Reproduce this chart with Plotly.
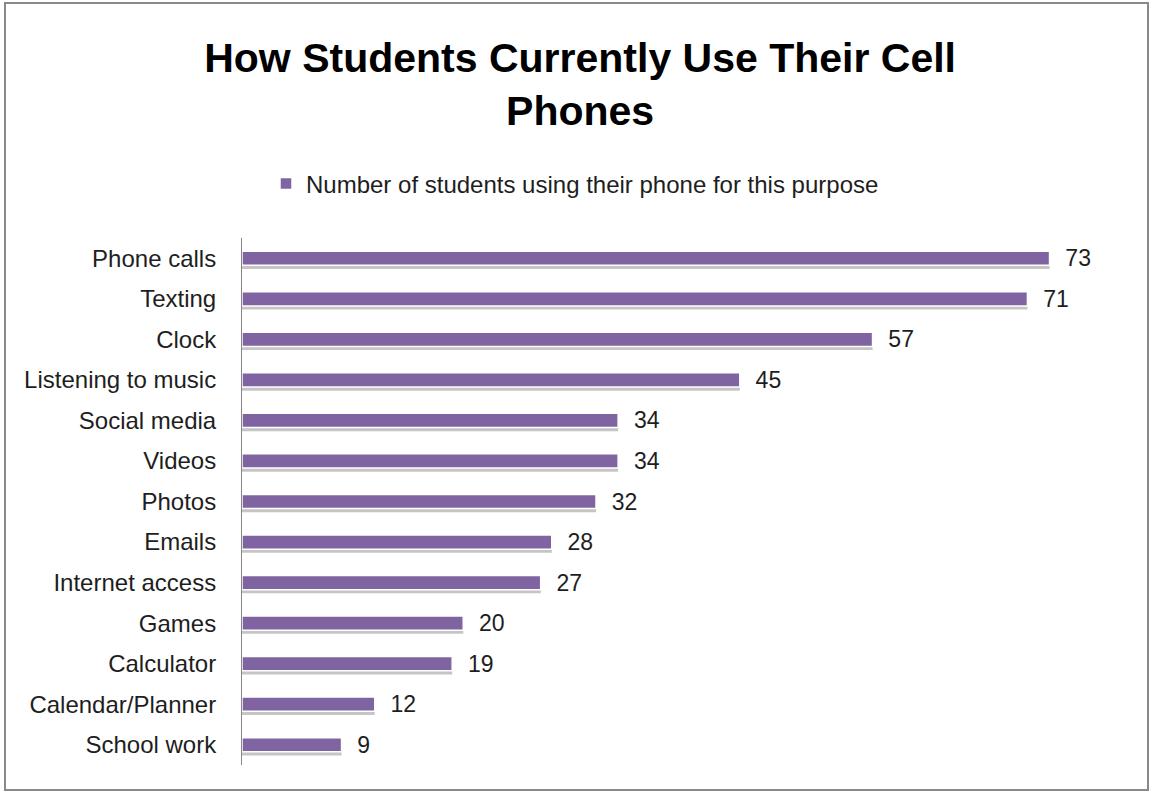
import plotly.graph_objects as go

categories = ["Phone calls", "Texting", "Clock", "Listening to music", "Social media",
              "Videos", "Photos", "Emails", "Internet access", "Games", "Calculator",
              "Calendar/Planner", "School work"]
values = [73, 71, 57, 45, 34, 34, 32, 28, 27, 20, 19, 12, 9]
series_name = "Number of students using their phone for this purpose"
title_text = "How Students Currently Use Their Cell<br>Phones"

W, H = 1151, 793
L, R, T, B = 242, 24, 238, 28
pw, ph = W - L - R, H - T - B
bw = 0.35
txt = "#1e1e1e"
fam = "Liberation Sans, Arial, sans-serif"

fig = go.Figure()
# shadow
fig.add_trace(go.Bar(
    y=categories, x=values, orientation="h", width=bw, offset=-bw / 2 + 0.09,
    marker=dict(color="rgba(90,90,90,0.35)", line=dict(width=0)),
    showlegend=False, hoverinfo="skip"))
fig.add_trace(go.Bar(
    y=categories, x=values, orientation="h", width=bw, offset=-bw / 2,
    name=series_name,
    marker=dict(color="#8064A2", line=dict(color="white", width=1.5)),
    text=values, texttemplate="  %{x}", textposition="outside", cliponaxis=False,
    constraintext="none",
    textfont=dict(size=23, color=txt, family=fam)))

fig.update_layout(
    width=W, height=H, barmode="overlay",
    margin=dict(l=L, r=R, t=T, b=B),
    paper_bgcolor="white", plot_bgcolor="white",
    font=dict(family=fam, color=txt),
    title=dict(text=title_text, x=0.504, xref="container", xanchor="center",
               y=1 - 72 / H, yref="container", yanchor="middle",
               font=dict(size=41, color="#000000", family=fam, weight="bold")),
    legend=dict(orientation="h", x=266 / W, xanchor="left", y=1 - 184 / H, yanchor="middle",
                xref="container", yref="container", font=dict(size=24, color=txt),
                itemwidth=30),
    xaxis=dict(range=[0, 80], showgrid=False, showticklabels=False, zeroline=False,
               showline=False, ticks=""),
    yaxis=dict(autorange="reversed", showgrid=False, showline=True, linecolor="#868686",
               linewidth=1, ticks="", tickfont=dict(size=24, color=txt),
               ticklabelstandoff=20),
    shapes=[dict(type="rect", xref="paper", yref="paper",
                 x0=(5 - L) / pw, x1=(1148 - L) / pw,
                 y0=-(790 - (H - B)) / ph, y1=1 + (T - 3) / ph,
                 line=dict(color="#898989", width=2), layer="below")],
)

fig.write_html("out.html", config={"displayModeBar": False},
               post_script="document.body.style.margin='0';")
